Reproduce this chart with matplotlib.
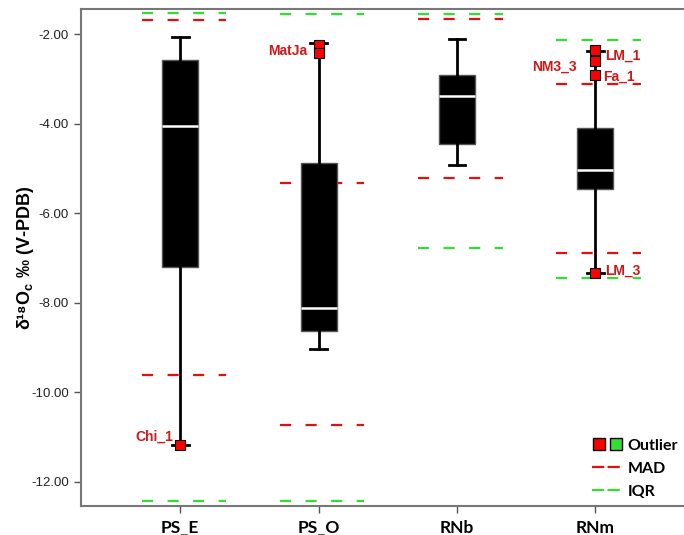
import matplotlib
matplotlib.use('Agg')
import matplotlib.pyplot as plt
from matplotlib.lines import Line2D
from matplotlib.legend_handler import HandlerTuple

plt.rcParams['font.family'] = ['Liberation Sans', 'DejaVu Sans']
plt.rcParams['axes.unicode_minus'] = False
plt.rcParams['mathtext.fontset'] = 'custom'
plt.rcParams['mathtext.rm'] = 'Liberation Sans'
plt.rcParams['mathtext.bf'] = 'Liberation Sans:bold'

# box stats
categories = ['PS_E', 'PS_O', 'RNb', 'RNm']
q1 = [-7.20, -8.62, -4.45, -5.46]
medians = [-4.05, -8.12, -3.38, -5.02]
q3 = [-2.57, -4.87, -2.91, -4.10]
whisker_low = [-11.18, -9.04, -4.91, -7.34]
whisker_high = [-2.07, -2.19, -2.10, -2.37]
outliers = [[-11.18], [-2.24, -2.42], [], [-2.35, -2.59, -2.91, -7.34]]

# outlier names
label_names = ['Chi_1', 'MatJa', 'LM_1', 'NM3_3', 'Fa_1', 'LM_3']
label_cat = [0, 1, 3, 3, 3, 3]
label_y = [-11.18, -2.33, -2.35, -2.59, -2.91, -7.34]

# cutoff lines per category
mad_lines = [[-1.68, -9.62], [-5.33, -10.73], [-1.66, -5.22], [-3.10, -6.89]]
iqr_lines = [[-1.53, -12.42], [-1.55, -12.42], [-1.55, -6.78], [-2.13, -7.45]]

yticks = [-2, -4, -6, -8, -10, -12]

red = '#e01010'
green = '#33dd33'

fig = plt.figure(figsize=(6.84, 5.35), dpi=100)
ax = fig.add_axes([0.118, 0.0542, 0.882, 0.9284])

stats = []
for i in range(len(categories)):
    stats.append(dict(med=medians[i], q1=q1[i], q3=q3[i],
                      whislo=whisker_low[i], whishi=whisker_high[i],
                      fliers=outliers[i], label=categories[i]))

ax.bxp(stats, positions=range(len(categories)), widths=0.26, capwidths=0.12,
       patch_artist=True, manage_ticks=False,
       boxprops=dict(facecolor='black', edgecolor='#555555', linewidth=1, zorder=3),
       medianprops=dict(color='white', linewidth=1.8, zorder=4),
       whiskerprops=dict(color='black', linewidth=2, zorder=3),
       capprops=dict(color='black', linewidth=2, zorder=3),
       flierprops=dict(marker='s', markerfacecolor='red', markeredgecolor='black',
                       markeredgewidth=0.8, markersize=7, zorder=5))

dash = (0, (5, 6.5))
for i in range(len(categories)):
    ax.hlines(mad_lines[i], i - 0.28, i + 0.33, colors=red, linestyles=dash,
              linewidth=1.6, zorder=2)
    ax.hlines(iqr_lines[i], i - 0.28, i + 0.33, colors=green, linestyles=dash,
              linewidth=1.6, zorder=2)

# text offsets in points (dx, dy, ha)
offsets = [(-5, 6, 'right'), (-8, -1, 'right'), (7, -4, 'left'),
           (-13, -4, 'right'), (6, -1, 'left'), (7, 2, 'left')]
for name, c, y, (dx, dy, ha) in zip(label_names, label_cat, label_y, offsets):
    ax.annotate(name, (c, y), xytext=(dx, dy), textcoords='offset points',
                ha=ha, va='center', color='#d01818', fontsize=10,
                fontweight='bold', zorder=6)

ax.set_xlim(-0.72, 3.642)
ax.set_ylim(-12.54, -1.44)
ax.set_xticks(range(len(categories)))
ax.set_xticklabels(categories, fontsize=12.5, fontweight='bold',
                   family=['Lato', 'DejaVu Sans'])
ax.set_yticks(yticks)
ax.set_yticklabels(['%.2f' % v for v in yticks], fontsize=9.5, color='#222222')
ax.tick_params(axis='both', direction='out', length=5, width=1, color='#555555')
ax.tick_params(axis='x', pad=5)

for s in ['top', 'left', 'bottom']:
    ax.spines[s].set_color('#777777')
    ax.spines[s].set_linewidth(1.5)
ax.spines['right'].set_visible(False)

ax.set_ylabel('δ¹⁸O$_{\\mathbf{c}}$ ‰ (V-PDB)', fontsize=13, fontweight='bold')
ax.yaxis.set_label_coords(-0.074, 0.5)

sq_red = Line2D([], [], marker='s', ls='none', markerfacecolor='red',
                markeredgecolor='black', markersize=8.5)
sq_green = Line2D([], [], marker='s', ls='none', markerfacecolor=green,
                  markeredgecolor='black', markersize=8.5)
mad_h = Line2D([], [], color=red, ls=(0, (5.5, 1.5)), lw=1.6)
iqr_h = Line2D([], [], color=green, ls=(0, (5.5, 1.5)), lw=1.6)
leg = ax.legend([(sq_red, sq_green), mad_h, iqr_h], ['Outlier', 'MAD', 'IQR'],
                handler_map={tuple: HandlerTuple(ndivide=None, pad=0.15)},
                loc='upper left', bbox_to_anchor=(0.848, 0.136), frameon=False,
                borderpad=0, borderaxespad=0, handlelength=1.9, handletextpad=0.3,
                labelspacing=0.55, prop=dict(family=['Lato', 'DejaVu Sans'],
                                             weight='bold', size=11.5))

fig.savefig('out.png', dpi=100)
